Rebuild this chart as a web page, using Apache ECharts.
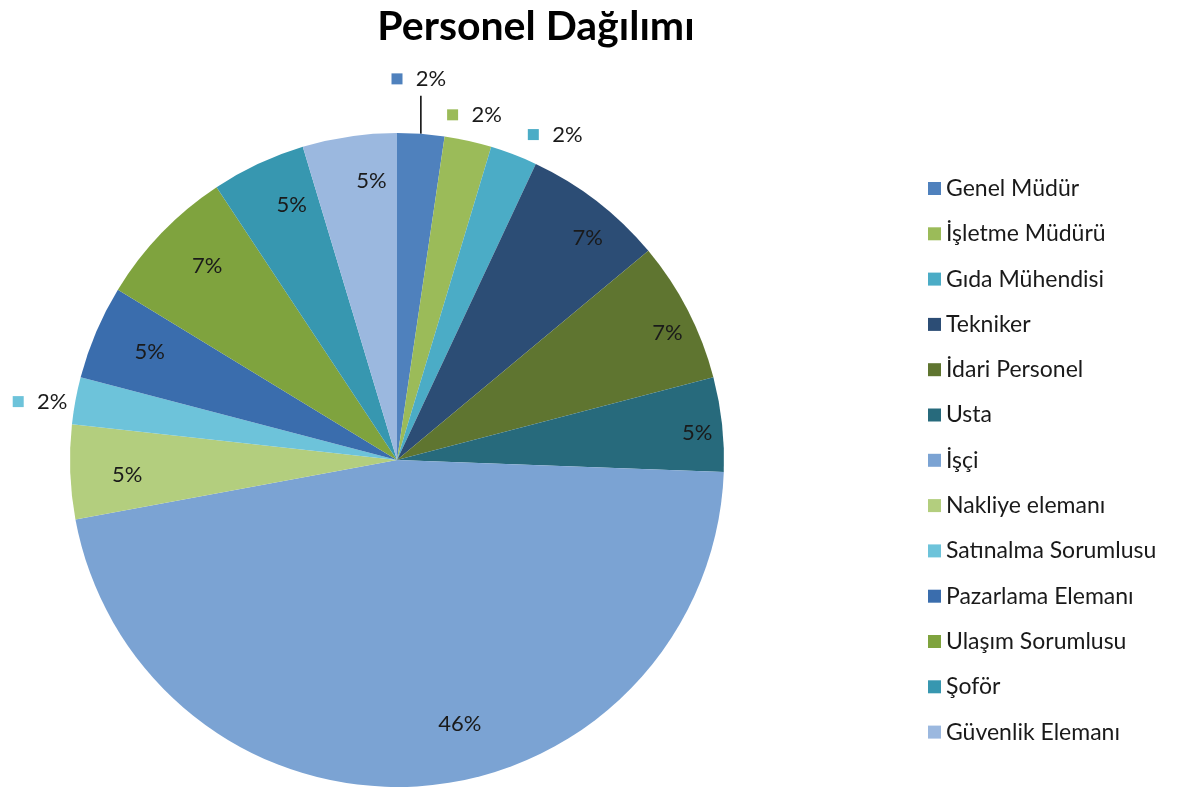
<!DOCTYPE html>
<html>
<head>
<meta charset="utf-8">
<script src="https://cdn.jsdelivr.net/npm/echarts@6/dist/echarts.min.js"></script>
<style>
  html, body { margin: 0; padding: 0; background: #fff; }
  #chart { width: 1180px; height: 789px; }
</style>
</head>
<body>
<div id="chart"></div>
<script>
// kategori adları (lejant sırası)
const categories = ['Genel Müdür', 'İşletme Müdürü', 'Gıda Mühendisi', 'Tekniker', 'İdari Personel', 'Usta',
    'İşçi', 'Nakliye elemanı', 'Satınalma Sorumlusu', 'Pazarlama Elemanı', 'Ulaşım Sorumlusu', 'Şoför', 'Güvenlik Elemanı'];
// kişi sayıları (toplam 43), yüzdeler bunlardan hesaplanıyor
const counts = [1, 1, 1, 3, 3, 2, 20, 2, 1, 2, 3, 2, 2];
const colors = ['#4F81BD', '#9BBB59', '#4BACC6', '#2C4D75', '#5F7530', '#276A7C',
    '#7BA3D3', '#B3CE7E', '#6DC3DA', '#3A6DAD', '#7FA33E', '#3797B0', '#9BB8DF'];
// dışarıda etiketlenen dilimler
const outsideIdx = [0, 1, 2, 8];

const font = 'Lato, "Open Sans", sans-serif';
const CX = 397, CY = 460, R = 327;

const rich = { v: { fontSize: 22, color: '#1a1a1a', fontFamily: font } };
colors.forEach((c, i) => {
    rich['k' + i] = { width: 11, height: 11, backgroundColor: c };
});

const mainData = categories.map((name, i) => ({
    name: name,
    value: counts[i],
    itemStyle: { color: colors[i] }
}));

const labelData = categories.map((name, i) => {
    const outside = outsideIdx.includes(i);
    return {
        name: name,
        value: counts[i],
        label: outside ? {
            position: 'outside',
            formatter: '{k' + i + '|}    {v|{d}%}'
        } : {
            position: 'inside',
            formatter: '{v|{d}%}'
        },
        labelLine: {
            show: outside,
            lineStyle: { opacity: i === 0 ? 1 : 0 }
        }
    };
});

// dış etiketlerin dilim kenarına göre konumu
const outsideShift = {
    1: { dx: -21, dy: -26, align: 'left' },
    2: { dx: 14, dy: -20, align: 'left' },
    8: { dx: -8, dy: 1, align: 'right' }
};

function labelLayout(params) {
    if (params.seriesIndex !== 1) return;
    const i = params.dataIndex;
    if (i === 6) {
        return { dx: 42, dy: -21 };
    }
    if (!outsideIdx.includes(i)) {
        // Excel iç etiketleri biraz sağa kaymış
        return { dx: 16, dy: 4 };
    }
    if (!params.labelLinePoints) return;
    const p0 = params.labelLinePoints[0];
    if (i === 0) {
        return {
            x: p0[0] - 2,
            y: p0[1] - 44,
            align: 'center',
            verticalAlign: 'bottom',
            labelLinePoints: [[p0[0], p0[1]], [p0[0], p0[1] - 38], [p0[0], p0[1] - 38]]
        };
    }
    const s = outsideShift[i];
    return {
        x: p0[0] + s.dx,
        y: p0[1] + s.dy,
        align: s.align,
        verticalAlign: 'middle'
    };
}

const chart = echarts.init(document.getElementById('chart'));
const option = {
    animation: false,
    title: {
        text: 'Personel Dağılımı',
        left: 531,
        textAlign: 'center',
        top: 1,
        textStyle: {
            fontFamily: font,
            fontSize: 41,
            fontWeight: 'bold',
            color: '#000'
        }
    },
    legend: {
        orient: 'vertical',
        left: 923,
        top: 172,
        itemWidth: 13,
        itemHeight: 13,
        itemGap: 22.3,
        icon: 'rect',
        data: categories,
        textStyle: {
            fontFamily: font,
            fontSize: 23,
            color: '#1a1a1a'
        }
    },
    series: [{
        name: 'Personel',
        type: 'pie',
        center: [CX, CY],
        radius: [0, R],
        startAngle: 90,
        clockwise: true,
        label: { show: false },
        labelLine: { show: false },
        itemStyle: { borderWidth: 0 },
        emphasis: { disabled: true },
        data: mainData
    }, {
        // sadece etiketler için şeffaf halka
        name: 'Etiket',
        type: 'pie',
        center: [CX, CY],
        radius: [239, R],
        startAngle: 90,
        clockwise: true,
        percentPrecision: 0,
        avoidLabelOverlap: false,
        silent: true,
        legendHoverLink: false,
        itemStyle: { color: 'rgba(0,0,0,0)' },
        emphasis: { disabled: true },
        label: { show: true, rich: rich, overflow: 'none' },
        labelLine: {
            length: 38,
            length2: 0,
            lineStyle: { color: '#000', width: 1.5 }
        },
        labelLayout: labelLayout,
        data: labelData
    }]
};
chart.setOption(option);
</script>
</body>
</html>
